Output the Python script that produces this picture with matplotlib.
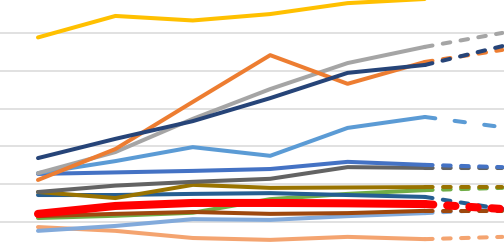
import matplotlib
matplotlib.use("Agg")
import matplotlib.pyplot as plt

plt.rcParams['lines.scale_dashes'] = False

periods = [0, 1, 2, 3, 4, 5, 6]
last_actual = 5

yellow = [58.9, 64.6, 63.4, 65.1, 68.0, 69.1]
orange = [21.1, 29.3, 41.8, 54.2, 46.6, 52.4, 55.6]
gray = [22.9, 28.5, 37.3, 45.2, 52.1, 56.4, 60.1]
navy = [26.9, 32.0, 36.7, 42.8, 49.5, 51.6, 56.6]
light_blue = [22.9, 26.1, 29.8, 27.5, 34.9, 37.8, 35.1]
royal_blue = [22.7, 23.1, 23.5, 24.0, 25.9, 25.1, 24.5]
dark_gray = [17.9, 19.6, 20.6, 21.4, 24.5, 24.3, 24.3]
olive = [17.9, 16.3, 19.8, 19.0, 19.1, 19.2, 19.2]
teal = [17.1, 17.1, 17.4, 17.6, 17.1, 16.6, 13.4]
green = [11.0, 11.6, 12.4, 16.0, 17.4, 18.4, 19.0]
brown = [11.5, 12.1, 12.6, 12.1, 12.3, 12.9, 12.9]
steel_blue = [7.6, 8.9, 10.7, 10.5, 11.5, 12.3, 13.4]
light_orange = [8.6, 7.6, 5.7, 5.2, 6.0, 5.4, 6.0]
red = [12.1, 14.2, 15.0, 15.0, 14.9, 14.7, 13.4]

# (values, colour, width in pt, dash pattern in pt)
series = [
    (light_orange, "#F4A470", 2.9, (5.5, 7.5)),
    (steel_blue, "#82AADB", 2.9, (5.5, 7.5)),
    (green, "#70AD47", 2.9, (5.5, 7.5)),
    (brown, "#9E480E", 2.9, (5.5, 7.5)),
    (teal, "#255E91", 2.9, (5.5, 7.5)),
    (olive, "#997300", 2.9, (5.5, 7.5)),
    (dark_gray, "#636363", 2.9, (5.5, 7.5)),
    (royal_blue, "#4472C4", 2.9, (5.5, 7.5)),
    (light_blue, "#5B9BD5", 2.9, (7.5, 14.0)),
    (gray, "#A5A5A5", 2.9, (5.5, 7.5)),
    (orange, "#ED7D31", 2.9, (5.5, 7.5)),
    (navy, "#264478", 2.9, (5.5, 7.5)),
    (yellow, "#FFC000", 2.9, (5.5, 7.5)),
    (red, "#FF0000", 5.8, (6.0, 10.0)),
]

fig = plt.figure(figsize=(5.04, 2.42), dpi=100)
ax = fig.add_axes([0, 0, 1, 1])
ax.set_xlim(-0.491, 6.021)
ax.set_ylim(4.64, 68.83)
for g in [10, 20, 30, 40, 50, 60]:
    ax.axhline(g, color="#D9D9D9", lw=1.1, zorder=0)

for vals, col, lw, dash in series:
    n = min(len(vals), last_actual + 1)
    ax.plot(periods[:n], vals[:n], color=col, lw=lw, solid_joinstyle='round',
            solid_capstyle='round', zorder=2)
    if len(vals) > last_actual + 1:
        ax.plot(periods[last_actual:len(vals)], vals[last_actual:], color=col, lw=lw,
                dashes=dash, dash_capstyle='round', zorder=2)

ax.axis('off')
fig.savefig("out.png", dpi=100)
